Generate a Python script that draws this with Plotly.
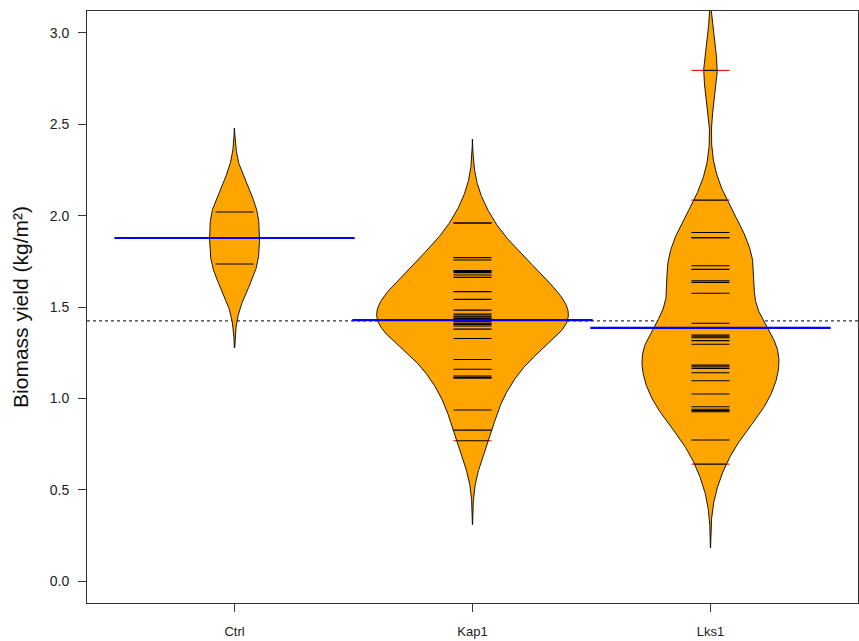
import numpy as np
import plotly.graph_objects as go

# ---------------- data ----------------
categories = ["Ctrl", "Kap1", "Lks1"]
ctrl_yield = [2.02, 1.735]
kap1_yield = [1.96, 1.96, 1.77, 1.757, 1.70, 1.695, 1.688, 1.675, 1.662, 1.584,
              1.542, 1.483, 1.461, 1.450, 1.445, 1.438, 1.43, 1.425, 1.419,
              1.411, 1.405, 1.396, 1.379, 1.328, 1.213, 1.159, 1.122, 1.115,
              1.111, 0.936, 0.826, 0.768]
lks1_yield = [2.795, 2.085, 1.908, 1.879, 1.879, 1.726, 1.706, 1.644, 1.635,
              1.575, 1.411, 1.346, 1.337, 1.332, 1.316, 1.296, 1.182, 1.173,
              1.164, 1.140, 1.096, 1.024, 0.954, 0.940, 0.933, 0.927, 0.772,
              0.640]
groups = [ctrl_yield, kap1_yield, lks1_yield]
ytick_vals = [0.0, 0.5, 1.0, 1.5, 2.0, 2.5, 3.0]

# ---------------- style ----------------
bandwidth = 0.153
cut = 3.0
bean_halfwidth = [0.105, 0.403, 0.288]
beanline_half = 0.08
meanline_half = 0.505
x_range = [0.38, 3.62]
y_range = [-0.12, 3.12]
FONT = "Liberation Sans, Arial, sans-serif"
W, H = 859, 641


def kde(vals, grid, bw):
    v = np.asarray(vals)[None, :]
    g = grid[:, None]
    return np.exp(-0.5 * ((g - v) / bw) ** 2).sum(axis=1) / (len(vals) * bw * np.sqrt(2 * np.pi))


fig = go.Figure()

all_vals = np.concatenate([np.asarray(g) for g in groups])
overall_mean = float(all_vals.mean())

black_x, black_y, red_x, red_y = [], [], [], []
mean_x, mean_y = [], []

for i, vals in enumerate(groups):
    pos = i + 1
    vals = np.asarray(vals)
    grid = np.linspace(vals.min() - cut * bandwidth, vals.max() + cut * bandwidth, 600)
    dens = kde(vals, grid, bandwidth)
    w = dens / dens.max() * bean_halfwidth[i]
    xs = np.concatenate([pos + w, pos - w[::-1]])
    ys = np.concatenate([grid, grid[::-1]])
    fig.add_trace(go.Scatter(x=xs, y=ys, mode="lines", fill="toself",
                             fillcolor="#FFA500",
                             line=dict(color="#000000", width=0.9),
                             hoverinfo="skip", showlegend=False))
    for v in vals:
        wv = float(np.interp(v, grid, w))
        inner = min(beanline_half, wv)
        black_x += [pos - inner, pos + inner, None]
        black_y += [v, v, None]
        if wv < beanline_half:
            red_x += [pos - beanline_half, pos - wv, None, pos + wv, pos + beanline_half, None]
            red_y += [v, v, None, v, v, None]
    m = float(vals.mean())
    mean_x += [pos - meanline_half, pos + meanline_half, None]
    mean_y += [m, m, None]

fig.add_trace(go.Scatter(x=red_x, y=red_y, mode="lines",
                         line=dict(color="#FF0000", width=1.1),
                         hoverinfo="skip", showlegend=False))
fig.add_trace(go.Scatter(x=black_x, y=black_y, mode="lines",
                         line=dict(color="#000000", width=1.1),
                         hoverinfo="skip", showlegend=False))
fig.add_trace(go.Scatter(x=mean_x, y=mean_y, mode="lines",
                         line=dict(color="#0000FF", width=2.2),
                         hoverinfo="skip", showlegend=False))

fig.add_shape(type="line", xref="x domain", x0=0, x1=1, yref="y",
              y0=overall_mean, y1=overall_mean, layer="below",
              line=dict(color="#000000", width=1, dash="dot"))

fig.update_layout(
    width=W, height=H, autosize=False,
    margin=dict(l=87, r=1, t=11, b=38),
    paper_bgcolor="white", plot_bgcolor="white",
    font=dict(family=FONT, color="#222222"),
    showlegend=False,
)
fig.update_xaxes(
    range=x_range, tickvals=[1, 2, 3], ticktext=categories,
    ticks="outside", ticklen=8, tickcolor="#333333", tickwidth=1,
    showline=True, linecolor="#333333", linewidth=1, mirror=True,
    showgrid=False, zeroline=False, automargin=False,
    tickfont=dict(size=13, family=FONT, color="#222222"),
    ticklabelstandoff=8,
)
fig.update_yaxes(
    range=y_range, tickvals=ytick_vals, tickformat=".1f",
    ticks="outside", ticklen=8, tickcolor="#333333", tickwidth=1,
    showline=True, linecolor="#333333", linewidth=1, mirror=True,
    showgrid=False, zeroline=False, automargin=False,
    tickfont=dict(size=14, family=FONT, color="#222222"),
    ticklabelstandoff=6,
    title=dict(text="Biomass yield (kg/m²)", font=dict(size=21, family=FONT, color="#111111"),
               standoff=15),
)

# remove the browser's default page margin so the figure sits at the window origin
post = ("document.body.style.margin='0px';document.body.style.padding='0px';"
        "document.body.style.overflow='hidden';"
        "var gd=document.getElementById('{plot_id}');"
        "Plotly.relayout(gd,{width:%d,height:%d});" % (W, H))

fig.write_html("out.html", config={"responsive": False, "displayModeBar": False},
               post_script=post)
